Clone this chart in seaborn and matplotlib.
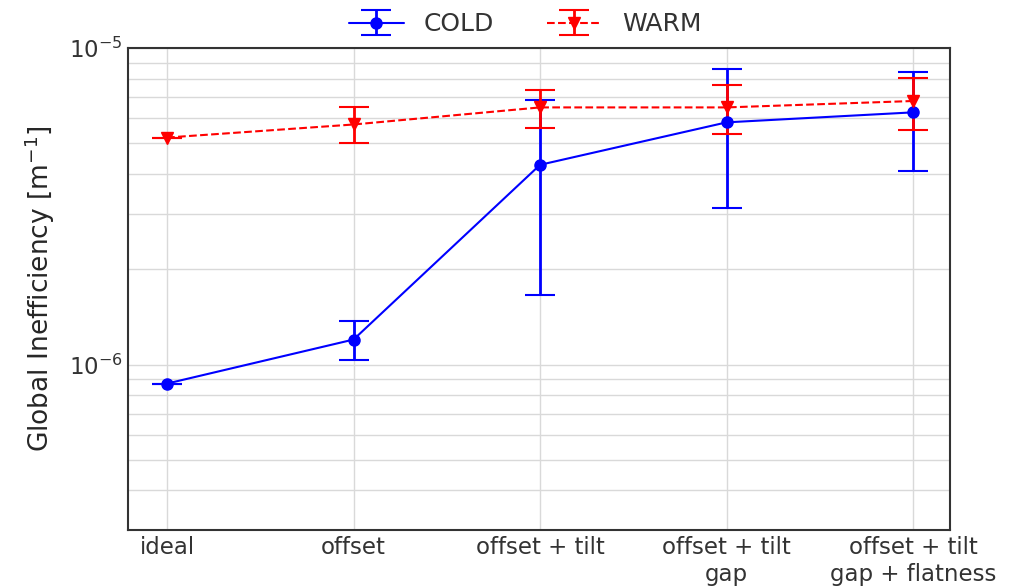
import numpy as np
import matplotlib
matplotlib.use("Agg")
import matplotlib.pyplot as plt
import seaborn as sns

categories = ["ideal", "offset", "offset + tilt", "offset + tilt\ngap", "offset + tilt\ngap + flatness"]

cold_val = [8.71e-7, 1.20e-6, 4.28e-6, 5.83e-6, 6.27e-6]
cold_lo = [8.71e-7, 1.032e-6, 1.654e-6, 3.12e-6, 4.09e-6]
cold_hi = [8.71e-7, 1.378e-6, 6.87e-6, 8.58e-6, 8.41e-6]

warm_val = [5.22e-6, 5.74e-6, 6.50e-6, 6.50e-6, 6.81e-6]
warm_lo = [5.22e-6, 5.01e-6, 5.59e-6, 5.35e-6, 5.52e-6]
warm_hi = [5.22e-6, 6.50e-6, 7.39e-6, 7.63e-6, 8.05e-6]

sns.set_style("whitegrid", {"axes.edgecolor": "0.2", "grid.color": "0.85"})
plt.rcParams["font.family"] = ["DejaVu Sans"]

fig = plt.figure(figsize=(10.23, 5.88), dpi=100)
ax = fig.add_axes([0.125, 0.0986, 0.804, 0.8194])

x = np.arange(len(categories))
cv = np.array(cold_val)
wv = np.array(warm_val)
cold_err = [cv - np.array(cold_lo), np.array(cold_hi) - cv]
warm_err = [wv - np.array(warm_lo), np.array(warm_hi) - wv]

ax.errorbar(x, cv, yerr=cold_err, fmt="o-", color="blue", lw=1.5, ms=8,
            elinewidth=2, capsize=11, capthick=1.5, label="COLD")
ax.errorbar(x, wv, yerr=warm_err, fmt="v--", color="red", lw=1.5, ms=8,
            elinewidth=2, capsize=11, capthick=1.5, label="WARM")

ax.set_yscale("log")
ax.set_ylim(3e-7, 1e-5)
ax.set_xlim(-0.21, 4.2)
ax.set_xticks(x)
ax.set_xticklabels(categories, fontsize=16.5, color="0.2")
ax.tick_params(axis="x", pad=4.5)
ax.tick_params(axis="y", labelsize=16.5, colors="0.2", which="major")
ax.tick_params(which="both", length=0)
ax.grid(True, which="both", axis="y", color="0.85", lw=1)
ax.grid(True, which="major", axis="x", color="0.85", lw=1)
for s in ax.spines.values():
    s.set_linewidth(1.5)
    s.set_color("0.2")

ax.set_ylabel("Global Inefficiency [m$^{-1}$]", fontsize=19, color="0.15", labelpad=9)
leg = ax.legend(loc="lower center", bbox_to_anchor=(0.483, 1.004), ncol=2,
                frameon=False, fontsize=18, columnspacing=2.1, handlelength=2.2,
                borderaxespad=0.0)
for t in leg.get_texts():
    t.set_color("0.2")

fig.savefig("out.png", dpi=100)
